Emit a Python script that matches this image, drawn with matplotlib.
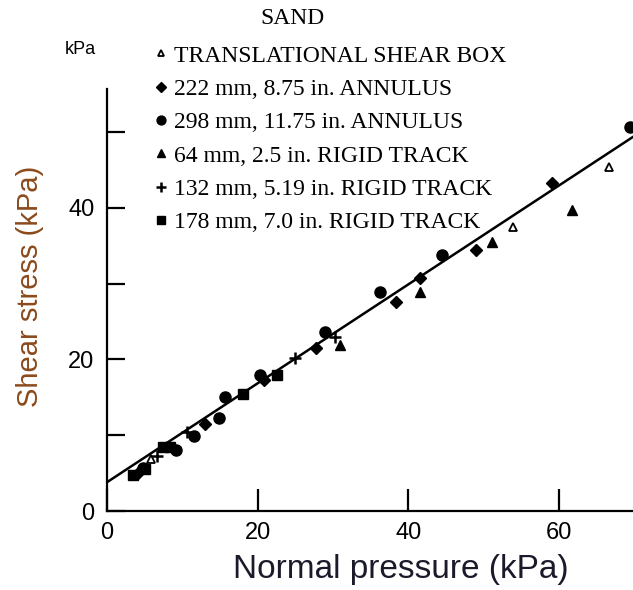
import matplotlib
matplotlib.use("Agg")
import matplotlib.pyplot as plt

# Shear stress vs normal pressure for sand
box_x = [5.8, 53.9, 66.6]
box_y = [6.8, 37.5, 45.4]

ann222_x = [4.1, 13.0, 20.8, 27.8, 38.4, 41.5, 49.0, 59.1]
ann222_y = [5.0, 11.5, 17.3, 21.5, 27.6, 30.8, 34.5, 43.3]

ann298_x = [4.8, 9.1, 11.6, 14.8, 15.6, 20.3, 28.9, 36.2, 44.4, 69.4]
ann298_y = [5.7, 8.0, 9.9, 12.3, 15.1, 18.0, 23.6, 28.9, 33.8, 50.7]

rt64_x = [30.9, 41.5, 51.1, 61.7]
rt64_y = [21.9, 28.9, 35.5, 39.7]

rt132_x = [6.6, 10.6, 24.9, 30.2]
rt132_y = [7.2, 10.4, 20.2, 23.0]

rt178_x = [3.5, 5.0, 7.4, 8.3, 18.0, 22.5]
rt178_y = [4.8, 5.5, 8.4, 8.4, 15.4, 18.0]

# fitted failure line: tau = c + k * sigma
cohesion = 3.8
slope = 0.653
line_x = [0, 72]

legend_title = "SAND"
labels = [
    "TRANSLATIONAL SHEAR BOX",
    "222 mm, 8.75 in. ANNULUS",
    "298 mm, 11.75 in. ANNULUS",
    "64 mm, 2.5 in. RIGID TRACK",
    "132 mm, 5.19 in. RIGID TRACK",
    "178 mm, 7.0 in. RIGID TRACK",
]

plt.rcParams["font.family"] = ["Liberation Sans", "DejaVu Sans"]

W, H = 633, 590
fig = plt.figure(figsize=(W / 100, H / 100), dpi=100)
ax = fig.add_axes([107 / W, 79 / H, 526 / W, 422 / H])

ax.plot(line_x, [cohesion + slope * v for v in line_x], color="k", lw=1.8, zorder=2)

ms = 7
h0, = ax.plot(box_x, box_y, ls="none", marker="^", mfc="white", mec="k", mew=1.3, ms=ms - 1)
h1, = ax.plot(ann222_x, ann222_y, ls="none", marker="D", color="k", ms=ms - 1)
h2, = ax.plot(ann298_x, ann298_y, ls="none", marker="o", color="k", ms=ms + 1)
h3, = ax.plot(rt64_x, rt64_y, ls="none", marker="^", color="k", ms=ms)
h4, = ax.plot(rt132_x, rt132_y, ls="none", marker="+", color="k", ms=ms + 2, mew=1.8)
h5, = ax.plot(rt178_x, rt178_y, ls="none", marker="s", color="k", ms=ms)

ax.set_xlim(0, 69.8)
ax.set_ylim(0, 55.7)

for s in ["top", "right"]:
    ax.spines[s].set_visible(False)
for s in ["left", "bottom"]:
    ax.spines[s].set_linewidth(1.6)

ax.set_xticks([0, 20, 40, 60])
ax.set_xticklabels(["0", "20", "40", "60"])
ax.set_yticks([0, 10, 20, 30, 40, 50])
ax.set_yticklabels(["0", "", "20", "", "40", ""])
ax.tick_params(axis="y", direction="in", length=13, width=1.6, labelsize=17, pad=9)
ax.tick_params(axis="x", direction="in", length=16, width=1.6, labelsize=17, pad=8)

ax.set_xlabel("Normal pressure (kPa)", fontsize=24, color="#1a1a2a")
ax.xaxis.set_label_coords(0.558, -0.102)
ax.set_ylabel("Shear stress (kPa)", fontsize=21, color="#8b4a1c")
ax.yaxis.set_label_coords(-0.12, 0.533)

fig.text(80 / W, 1 - 50 / H, "kPa", fontsize=13, ha="center", va="center")
fig.text(293 / W, 1 - 18 / H, legend_title, fontsize=17, ha="center", va="center",
         family="Liberation Serif")

leg = fig.legend(
    [h0, h1, h2, h3, h4, h5], labels,
    loc="upper left", bbox_to_anchor=(155 / W, 1 - 45 / H),
    frameon=False, prop={"family": "Liberation Serif", "size": 17},
    handlelength=0.5, handletextpad=0.3, labelspacing=0.5, borderpad=0.0,
    borderaxespad=0.0, markerscale=0.8,
)

fig.savefig("out.png", dpi=100)
